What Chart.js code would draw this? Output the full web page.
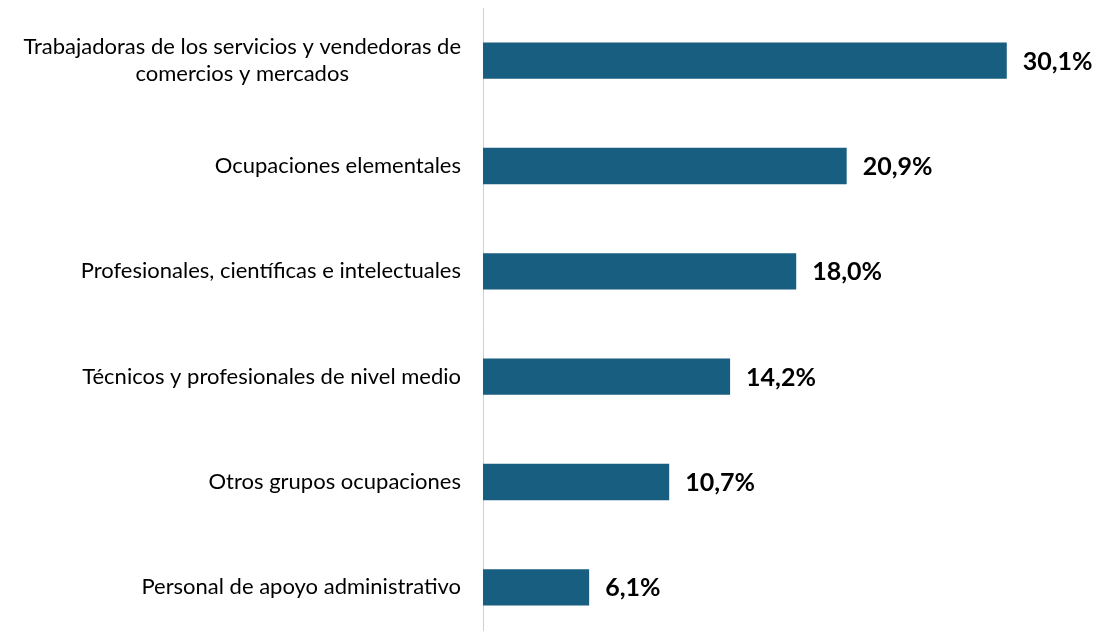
<!DOCTYPE html>
<html>
<head>
<meta charset="utf-8">
<script src="https://cdn.jsdelivr.net/npm/chart.js@4"></script>
<style>
  html, body { margin: 0; padding: 0; background: #fff; overflow: hidden; }
  #wrap { width: 1099px; height: 640px; }
</style>
</head>
<body>
<div id="wrap"><canvas id="chart"></canvas></div>
<script>
  const categories = [
    ['Trabajadoras de los servicios y vendedoras de', 'comercios y mercados'],
    ['Ocupaciones elementales'],
    ['Profesionales, científicas e intelectuales'],
    ['Técnicos y profesionales de nivel medio'],
    ['Otros grupos ocupaciones'],
    ['Personal de apoyo administrativo']
  ];
  const shares = [30.1, 20.9, 18.0, 14.2, 10.7, 6.1];

  const BAR = '#185e80';
  const LABEL_FONT = '22px Lato';
  const VALUE_FONT = 'bold 25px Lato';

  /* category labels: each line centred on the longest line, block right-aligned */
  const catLabels = {
    id: 'catLabels',
    afterDraw(chart) {
      const ctx = chart.ctx;
      const y = chart.scales.y;
      const right = chart.chartArea.left - 22;
      ctx.save();
      ctx.font = LABEL_FONT;
      ctx.fillStyle = '#000';
      ctx.textAlign = 'center';
      ctx.textBaseline = 'middle';
      const lh = 27;
      categories.forEach((lines, i) => {
        const w = Math.max(...lines.map(l => ctx.measureText(l).width));
        const cx = right - w / 2;
        const cy = y.getPixelForValue(i);
        lines.forEach((l, k) => {
          ctx.fillText(l, cx, cy + (k - (lines.length - 1) / 2) * lh);
        });
      });
      ctx.restore();
    }
  };

  /* value labels at bar ends */
  const valueLabels = {
    id: 'valueLabels',
    afterDatasetsDraw(chart) {
      const ctx = chart.ctx;
      const meta = chart.getDatasetMeta(0);
      ctx.save();
      ctx.font = VALUE_FONT;
      ctx.fillStyle = '#000';
      ctx.textAlign = 'left';
      ctx.textBaseline = 'middle';
      meta.data.forEach((bar, i) => {
        const txt = shares[i].toFixed(1).replace('.', ',') + '%';
        ctx.fillText(txt, bar.x + 16, bar.y + 1);
      });
      ctx.restore();
    }
  };

  new Chart(document.getElementById('chart'), {
    type: 'bar',
    data: {
      labels: categories.map(c => c.join(' ')),
      datasets: [{
        data: shares,
        backgroundColor: BAR,
        borderWidth: 0,
        barPercentage: 0.345,
        categoryPercentage: 1
      }]
    },
    options: {
      indexAxis: 'y',
      responsive: true,
      maintainAspectRatio: false,
      animation: false,
      layout: { padding: { top: 8, right: 0, bottom: 0, left: 0 } },
      plugins: { legend: { display: false }, tooltip: { enabled: false } },
      scales: {
        x: {
          min: 0,
          max: 35.4,
          display: false
        },
        y: {
          grid: { display: false },
          border: { display: true, color: '#d0d0d0', width: 1 },
          ticks: { display: false },
          afterFit(scale) { scale.width = 483; }
        }
      }
    },
    plugins: [catLabels, valueLabels]
  });
</script>
</body>
</html>
